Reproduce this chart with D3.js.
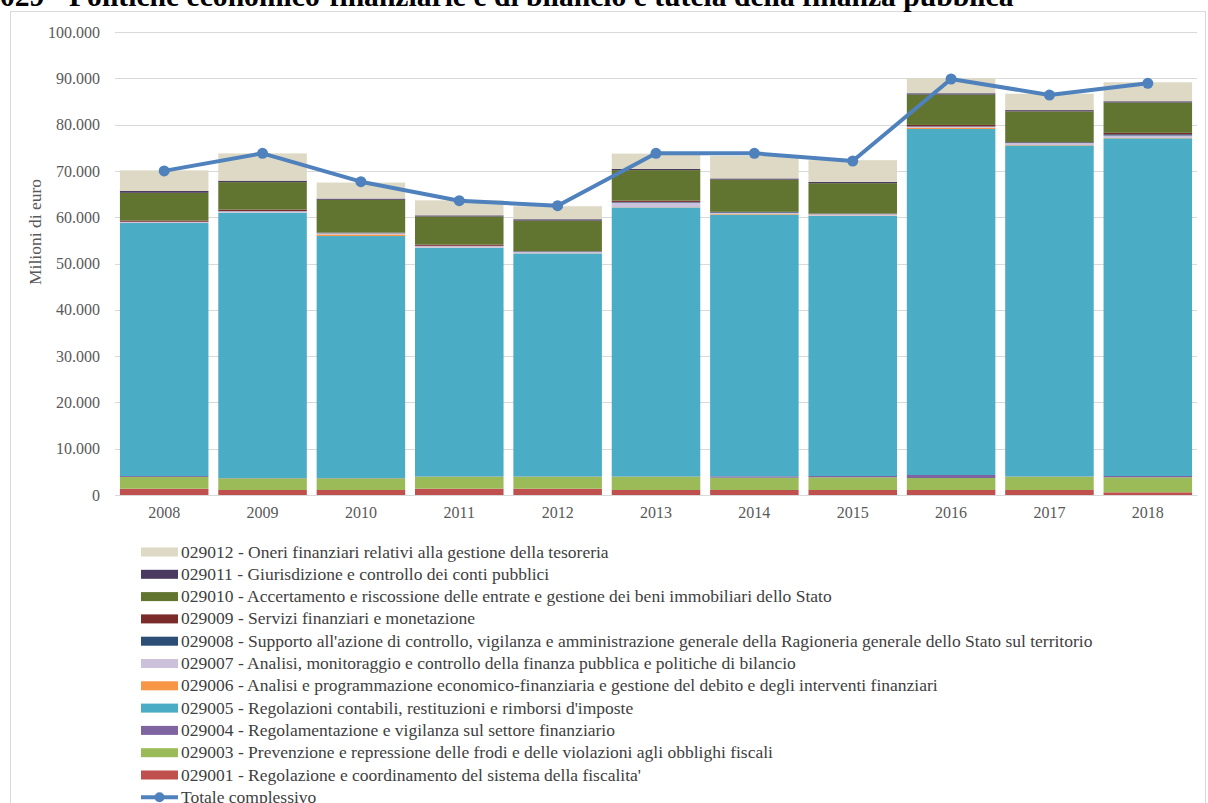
<!DOCTYPE html>
<html><head><meta charset="utf-8">
<script src="https://cdn.jsdelivr.net/npm/d3@7/dist/d3.min.js"></script>
<style>
body{margin:0;background:#fff;}
svg{display:block;font-family:"Liberation Serif","Times New Roman",serif;}
</style>
</head><body>
<svg id="chart" width="1208" height="803"></svg>
<script>
// ---- data (Milioni di euro) ----
const years = ["2008","2009","2010","2011","2012","2013","2014","2015","2016","2017","2018"];
const s029001 = [1360,1080,1080,1360,1360,1080,1080,1080,1080,1080,580];
const s029003 = [2530,2530,2530,2590,2590,2870,2660,2740,2590,2870,3240];
const s029004 = [200,50,50,50,50,50,300,280,650,50,280];
const s029005 = [54650,57300,52270,49400,48170,58100,56520,56160,74730,71490,72940];
const s029006 = [30,30,350,50,30,50,150,100,300,100,100];
const s029007 = [200,300,250,320,320,1000,250,300,200,430,500];
const s029008 = [50,50,100,50,100,150,150,100,100,150,280];
const s029009 = [250,300,50,280,50,280,50,50,280,50,300];
const s029010 = [6000,5940,7080,6050,6590,6590,6950,6540,6540,6630,6540];
const s029011 = [400,300,260,250,300,260,260,280,300,280,280];
const s029012 = [4450,5900,3460,3240,2810,3300,4880,4690,3240,3540,4100];
const totale  = [70000,73800,67670,63560,62480,73800,73800,72140,89850,86390,88920];
const yTicks = [0,10000,20000,30000,40000,50000,60000,70000,80000,90000,100000];

const seriesKeys = ["029001","029003","029004","029005","029006","029007","029008","029009","029010","029011","029012"];
const seriesValues = {"029001":s029001,"029003":s029003,"029004":s029004,"029005":s029005,"029006":s029006,
  "029007":s029007,"029008":s029008,"029009":s029009,"029010":s029010,"029011":s029011,"029012":s029012};
const seriesNames = {
  "029012":"029012 - Oneri finanziari relativi alla gestione della tesoreria",
  "029011":"029011 - Giurisdizione e controllo dei conti pubblici",
  "029010":"029010 - Accertamento e riscossione delle entrate e gestione dei beni immobiliari dello Stato",
  "029009":"029009 - Servizi finanziari e monetazione",
  "029008":"029008 - Supporto all'azione di controllo, vigilanza e amministrazione generale della Ragioneria generale dello Stato sul territorio",
  "029007":"029007 - Analisi, monitoraggio e controllo della finanza pubblica e politiche di bilancio",
  "029006":"029006 - Analisi e programmazione economico-finanziaria e gestione del debito e degli interventi finanziari",
  "029005":"029005 - Regolazioni contabili, restituzioni e rimborsi d'imposte",
  "029004":"029004 - Regolamentazione e vigilanza sul settore finanziario",
  "029003":"029003 - Prevenzione e repressione delle frodi e delle violazioni agli obblighi fiscali",
  "029001":"029001 - Regolazione e coordinamento del sistema della fiscalita'"
};
const totalName = "Totale complessivo";
const colors = {"029001":"#c0504d","029003":"#9bbb59","029004":"#8064a2","029005":"#4bacc6","029006":"#f79646",
  "029007":"#ccc1da","029008":"#2c4d75","029009":"#7b2c2a","029010":"#617530","029011":"#4a3a60","029012":"#ddd9c4"};
const lineColor = "#4f81bd";

// ---- layout ----
const svg = d3.select("#chart");
const plot = {left:115, right:1197, top:32, bottom:495};

// border of chart area
svg.append("rect").attr("x",10.5).attr("y",11.5).attr("width",1195).attr("height",820)
  .attr("fill","none").attr("stroke","#d9d9d9").attr("stroke-width",1);

// title (cut by top edge, as in the reference)
svg.append("text").attr("x",0).attr("y",5.5).attr("font-size",29.6).attr("font-weight","bold")
  .attr("fill","#000").text("029 - Politiche economico-finanziarie e di bilancio e tutela della finanza pubblica");

const x = d3.scaleBand().domain(years).range([plot.left, plot.right]).paddingInner(0.1).paddingOuter(0.05);
const y = d3.scaleLinear().domain([0,100000]).range([plot.bottom, plot.top]);

const loc = d3.formatLocale({decimal:",", thousands:".", grouping:[3], currency:["",""]});
const fmt = loc.format(",");

// gridlines
svg.append("g").selectAll("line").data(yTicks).join("line")
  .attr("x1",plot.left).attr("x2",plot.right)
  .attr("y1",d=>Math.round(y(d))+0.5).attr("y2",d=>Math.round(y(d))+0.5)
  .attr("stroke","#d9d9d9").attr("stroke-width",1);

// y axis
const yAx = svg.append("g").attr("transform",`translate(${plot.left},0)`)
  .call(d3.axisLeft(y).tickValues(yTicks).tickFormat(fmt).tickSize(0).tickPadding(15));
yAx.select(".domain").remove();
yAx.selectAll("text").attr("font-family","Liberation Serif").attr("font-size",16).attr("fill","#595959");

// y axis title
svg.append("text").attr("transform","translate(41,232) rotate(-90)").attr("text-anchor","middle")
  .attr("font-size",17.5).attr("fill","#595959").text("Milioni di euro");

// stacked bars
const rows = years.map((yr,i)=>{const r={year:yr}; seriesKeys.forEach(k=>r[k]=seriesValues[k][i]); return r;});
const stack = d3.stack().keys(seriesKeys)(rows);
svg.append("g").selectAll("g").data(stack).join("g").attr("fill",d=>colors[d.key])
  .selectAll("rect").data(d=>d).join("rect")
  .attr("x",d=>x(d.data.year)).attr("width",x.bandwidth())
  .attr("y",d=>y(d[1])).attr("height",d=>Math.max(0,y(d[0])-y(d[1])));

// x axis
const xAx = svg.append("g").attr("transform",`translate(0,${plot.bottom})`)
  .call(d3.axisBottom(x).tickSize(0).tickPadding(12));
xAx.select(".domain").attr("stroke","#d9d9d9");
xAx.selectAll("text").attr("font-family","Liberation Serif").attr("font-size",16).attr("fill","#595959");

// total line
const line = d3.line().x((d,i)=>x(years[i])+x.bandwidth()/2).y(d=>y(d));
svg.append("path").datum(totale).attr("d",line).attr("fill","none").attr("stroke",lineColor)
  .attr("stroke-width",4).attr("stroke-linejoin","round");
svg.append("g").selectAll("circle").data(totale).join("circle")
  .attr("cx",(d,i)=>x(years[i])+x.bandwidth()/2).attr("cy",d=>y(d)).attr("r",5.5).attr("fill",lineColor);

// legend
const legendKeys = seriesKeys.slice().reverse();
const lg = svg.append("g");
const rowH = 22.3, ly0 = 552, sx = 141, sw = 37;
legendKeys.forEach((k,i)=>{
  const cy = ly0 + i*rowH;
  lg.append("rect").attr("x",sx).attr("y",cy-4.5).attr("width",sw).attr("height",9).attr("fill",colors[k]);
  lg.append("text").attr("x",sx+sw+3).attr("y",cy+5.5).attr("font-size",17.5).attr("fill","#404040").text(seriesNames[k]);
});
{
  const cy = ly0 + legendKeys.length*rowH;
  lg.append("line").attr("x1",sx).attr("x2",sx+sw).attr("y1",cy).attr("y2",cy).attr("stroke",lineColor).attr("stroke-width",4);
  lg.append("circle").attr("cx",sx+sw/2).attr("cy",cy).attr("r",5).attr("fill",lineColor);
  lg.append("text").attr("x",sx+sw+3).attr("y",cy+5.5).attr("font-size",17.5).attr("fill","#404040").text(totalName);
}
</script>
</body></html>
